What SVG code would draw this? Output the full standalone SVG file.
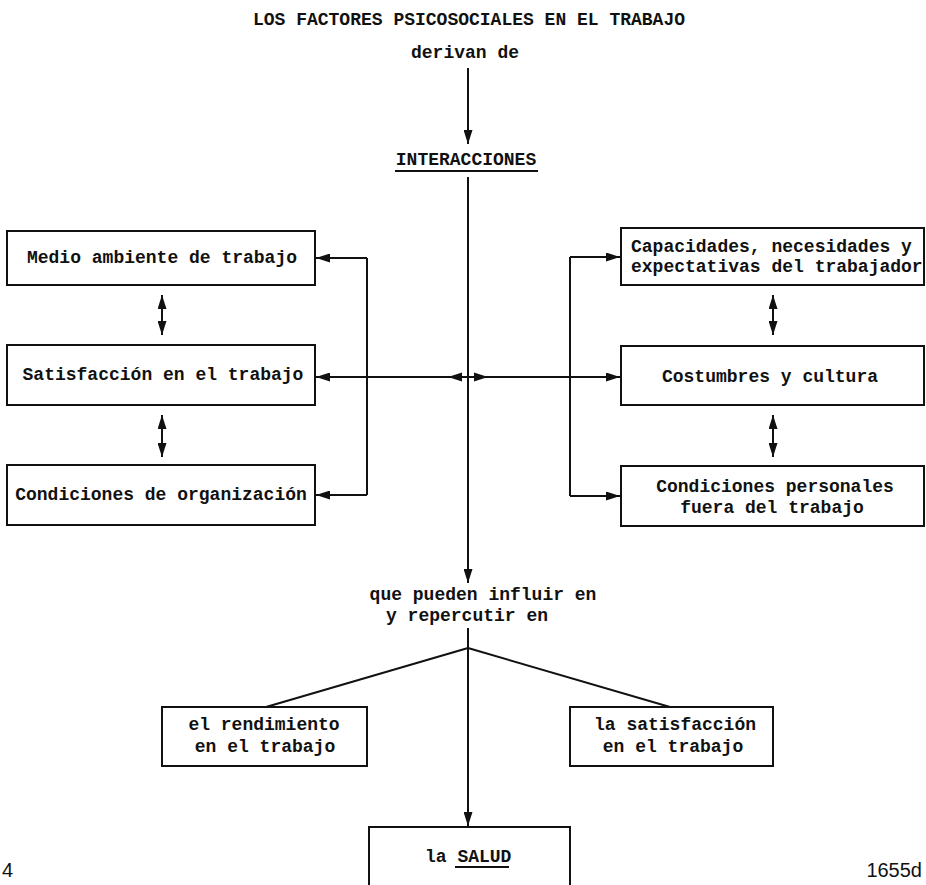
<svg xmlns="http://www.w3.org/2000/svg" width="926" height="885" viewBox="0 0 926 885">
<defs>
<style>
.t{font-family:"Liberation Mono","DejaVu Sans Mono",monospace;font-weight:bold;font-size:18px;fill:#111}
.c{text-anchor:middle}
.box{fill:#fff;stroke:#111;stroke-width:2}
.ln{fill:none;stroke:#111;stroke-width:2}
.ah{fill:#111}
.pg{font-family:"Liberation Sans",Arial,sans-serif;font-size:20px;fill:#111}
</style>
<marker id="arr" markerUnits="userSpaceOnUse" markerWidth="15" markerHeight="9" refX="14" refY="4.5" orient="auto-start-reverse">
<path d="M0,0 L14,4.5 L0,9 z" fill="#111"/>
</marker>
</defs>
<rect width="926" height="885" fill="#fff"/>

<g id="title">
<text class="t c" x="469" y="25">LOS FACTORES PSICOSOCIALES EN EL TRABAJO</text>
<text class="t c" x="465" y="58">derivan de</text>
</g>

<g id="interacciones">
<text class="t c" x="466" y="165">INTERACCIONES</text>
<line class="ln" x1="395" y1="171" x2="538" y2="171"/>
</g>

<g id="medio">
<rect class="box" x="7" y="231" width="308" height="54"/>
<text class="t c" x="162" y="263">Medio ambiente de trabajo</text>
</g>
<g id="satisfaccion">
<rect class="box" x="7" y="345" width="308" height="60"/>
<text class="t c" x="163" y="380">Satisfacción en el trabajo</text>
</g>
<g id="organizacion">
<rect class="box" x="7" y="465" width="308" height="60"/>
<text class="t c" x="161" y="500">Condiciones de organización</text>
</g>

<g id="capacidades">
<rect class="box" x="621" y="228" width="303" height="57"/>
<text class="t" x="631" y="252">Capacidades, necesidades y</text>
<text class="t" x="631" y="272">expectativas del trabajador</text>
</g>
<g id="costumbres">
<rect class="box" x="621" y="346" width="303" height="59"/>
<text class="t c" x="770" y="382">Costumbres y cultura</text>
</g>
<g id="personales">
<rect class="box" x="621" y="466" width="303" height="60"/>
<text class="t c" x="775" y="492">Condiciones personales</text>
<text class="t c" x="772" y="513">fuera del trabajo</text>
</g>

<g id="influir">
<text class="t c" x="483" y="600">que pueden influir en</text>
<text class="t c" x="467" y="621">y repercutir en</text>
</g>

<g id="rendimiento">
<rect class="box" x="162" y="707" width="205" height="59"/>
<text class="t c" x="264" y="730">el rendimiento</text>
<text class="t c" x="265" y="752">en el trabajo</text>
</g>
<g id="satisfaccion2">
<rect class="box" x="570" y="707" width="203" height="59"/>
<text class="t c" x="675" y="730">la satisfacción</text>
<text class="t c" x="673" y="752">en el trabajo</text>
</g>
<g id="salud">
<rect class="box" x="369" y="827" width="201" height="80"/>
<text class="t" x="425" y="862">la SALUD</text>
<line class="ln" x1="455" y1="867" x2="509" y2="867"/>
</g>

<g id="connectors">
<line class="ln" x1="468" y1="68" x2="468" y2="144" marker-end="url(#arr)"/>
<line class="ln" x1="468" y1="177" x2="468" y2="583" marker-end="url(#arr)"/>
<line class="ln" x1="468" y1="377" x2="316" y2="377" marker-end="url(#arr)"/>
<polygon class="ah" points="448,377 462,372.5 462,381.5"/>
<line class="ln" x1="468" y1="377" x2="620" y2="377" marker-end="url(#arr)"/>
<polygon class="ah" points="488,377 474,372.5 474,381.5"/>
<line class="ln" x1="367" y1="258" x2="367" y2="495"/>
<line class="ln" x1="367" y1="258" x2="316" y2="258" marker-end="url(#arr)"/>
<line class="ln" x1="367" y1="495" x2="316" y2="495" marker-end="url(#arr)"/>
<line class="ln" x1="570" y1="257" x2="570" y2="496"/>
<line class="ln" x1="570" y1="257" x2="620" y2="257" marker-end="url(#arr)"/>
<line class="ln" x1="570" y1="496" x2="620" y2="496" marker-end="url(#arr)"/>
<line class="ln" x1="162" y1="295" x2="162" y2="335" marker-start="url(#arr)" marker-end="url(#arr)"/>
<line class="ln" x1="162" y1="415" x2="162" y2="457" marker-start="url(#arr)" marker-end="url(#arr)"/>
<line class="ln" x1="773" y1="295" x2="773" y2="335" marker-start="url(#arr)" marker-end="url(#arr)"/>
<line class="ln" x1="773" y1="415" x2="773" y2="457" marker-start="url(#arr)" marker-end="url(#arr)"/>
<line class="ln" x1="468" y1="628" x2="468" y2="826" marker-end="url(#arr)"/>
<line class="ln" x1="468" y1="648" x2="266" y2="707"/>
<line class="ln" x1="468" y1="648" x2="670" y2="707"/>
</g>

<g id="page-marks">
<text class="pg" x="2" y="877">4</text>
<text class="pg" x="922" y="877" text-anchor="end">1655d</text>
</g>
</svg>
